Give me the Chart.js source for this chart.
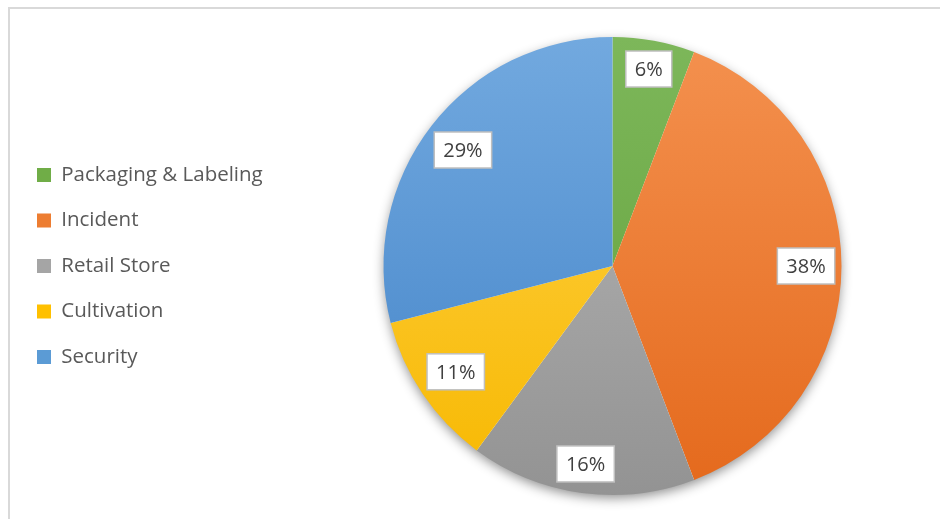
<!DOCTYPE html>
<html>
<head>
<meta charset="utf-8">
<script src="https://cdn.jsdelivr.net/npm/chart.js@4.4.0/dist/chart.umd.min.js"></script>
<style>
  html, body { margin: 0; padding: 0; background: #ffffff; overflow: hidden; }
  #frame { position: absolute; left: 8px; top: 7px; width: 940px; height: 520px;
           border-left: 2px solid #D9D9D9; border-top: 2px solid #D9D9D9; }
  #wrap { position: absolute; left: 10px; top: 9px; width: 930px; height: 510px; }
</style>
</head>
<body>
<div id="frame"></div>
<div id="wrap"><canvas id="chart"></canvas></div>
<script>
// ---- data ----
const categories = ["Packaging & Labeling", "Incident", "Retail Store", "Cultivation", "Security"];
const shares = [5.8, 38.4, 15.9, 10.9, 29.0];

// ---- styles ----
const baseColors   = ["#70AD47", "#ED7D31", "#A5A5A5", "#FFC000", "#5B9BD5"];
const topColors    = ["#7DB75A", "#F4914F", "#B8B8B8", "#FFD34D", "#72A9DF"];
const bottomColors = ["#62A03A", "#E4691C", "#939393", "#F7B800", "#4283C8"];

function pieGradient(context) {
  const chart = context.chart;
  const a = chart.chartArea;
  const i = context.dataIndex;
  if (!a) return baseColors[i];
  const cy = (a.top + a.bottom) / 2;
  const r = Math.min(a.right - a.left, a.bottom - a.top) / 2;
  const g = chart.ctx.createLinearGradient(0, cy - r, 0, cy + r);
  g.addColorStop(0, topColors[i]);
  g.addColorStop(1, bottomColors[i]);
  return g;
}

const legendWidthPlugin = {
  id: 'legendWidth',
  beforeInit(chart) {
    const orig = chart.legend.fit;
    chart.legend.fit = function () {
      orig.call(this);
      this.width = 371.5;
    };
  }
};

const shadowPlugin = {
  id: 'pieShadow',
  beforeDatasetsDraw(chart) {
    const arc = chart.getDatasetMeta(0).data[0];
    if (!arc) return;
    const p = arc.getProps(['x', 'y', 'outerRadius'], true);
    const ctx = chart.ctx;
    ctx.save();
    ctx.shadowColor = 'rgba(0,0,0,0.45)';
    ctx.shadowBlur = 12;
    ctx.shadowOffsetX = 0;
    ctx.shadowOffsetY = 4;
    ctx.fillStyle = '#ffffff';
    ctx.beginPath();
    ctx.arc(p.x, p.y, p.outerRadius - 1, 0, Math.PI * 2);
    ctx.fill();
    ctx.restore();
  }
};

const labelPlugin = {
  id: 'boxLabels',
  afterDatasetsDraw(chart) {
    const ctx = chart.ctx;
    const data = chart.data.datasets[0].data;
    const total = data.reduce((s, v) => s + v, 0);
    chart.getDatasetMeta(0).data.forEach((arc, i) => {
      const p = arc.getProps(['x', 'y', 'startAngle', 'endAngle', 'outerRadius'], true);
      const mid = (p.startAngle + p.endAngle) / 2;
      const ux = Math.cos(mid), uy = Math.sin(mid);
      const text = Math.round(data[i] / total * 100) + '%';
      ctx.save();
      ctx.font = '20px "Open Sans"';
      const tw = ctx.measureText(text).width;
      const w = tw + 18, h = 36;
      const hw = w / 2, hh = h / 2;
      const R = p.outerRadius - 6;
      const B = Math.abs(ux) * hw + Math.abs(uy) * hh;
      const C = hw * hw + hh * hh - R * R;
      const d = -B + Math.sqrt(B * B - C);
      const cx = p.x + ux * d, cy = p.y + uy * d;
      ctx.fillStyle = '#ffffff';
      ctx.fillRect(cx - hw, cy - hh, w, h);
      ctx.strokeStyle = '#BFBFBF';
      ctx.lineWidth = 1.5;
      ctx.strokeRect(cx - hw, cy - hh, w, h);
      ctx.fillStyle = '#404040';
      ctx.textAlign = 'center';
      ctx.textBaseline = 'middle';
      ctx.fillText(text, cx, cy + 1);
      ctx.restore();
    });
  }
};

new Chart(document.getElementById('chart'), {
  type: 'pie',
  data: {
    labels: categories,
    datasets: [{
      data: shares,
      backgroundColor: pieGradient,
      borderWidth: 0
    }]
  },
  options: {
    responsive: true,
    maintainAspectRatio: false,
    devicePixelRatio: 1,
    animation: false,
    events: [],
    layout: { padding: { left: 2, right: 98.5, top: 10, bottom: 6 } },
    plugins: {
      tooltip: { enabled: false },
      legend: {
        position: 'left',
        align: 'center',
        labels: {
          boxWidth: 14,
          boxHeight: 14,
          padding: 25,
          color: '#595959',
          font: { family: 'Open Sans', size: 20.5 },
          generateLabels(chart) {
            return chart.data.labels.map((lab, i) => ({
              text: lab,
              fillStyle: baseColors[i],
              strokeStyle: baseColors[i],
              lineWidth: 0,
              hidden: false,
              index: i,
              fontColor: '#595959'
            }));
          }
        }
      }
    }
  },
  plugins: [legendWidthPlugin, shadowPlugin, labelPlugin]
});
</script>
</body>
</html>
